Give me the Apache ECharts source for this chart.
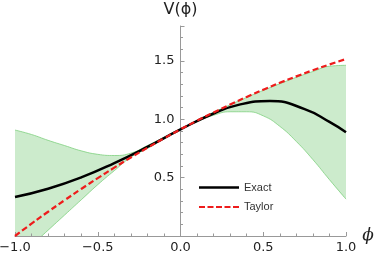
<!DOCTYPE html>
<html>
<head>
<meta charset="utf-8">
<script src="https://cdn.jsdelivr.net/npm/echarts@6/dist/echarts.min.js"></script>
<style>html,body{margin:0;padding:0;background:#fff}#c{width:374px;height:260px}</style>
</head>
<body>
<div id="c"></div>
<script>
const phi = [-1.0,-0.9,-0.8,-0.7,-0.6,-0.5,-0.4,-0.3,-0.2,-0.1,0.0,0.1,0.2,0.3,0.4,0.5,0.6,0.7,0.8,0.9,1.0];
const exactPhi = [-1.0,-0.8,-0.6,-0.4,-0.2,0.0,0.2,0.35,0.54,0.75,0.9,1.0];
const exact = [0.334,0.405,0.502,0.625,0.764,0.914,1.050,1.124,1.158,1.088,0.978,0.89];
const taylor = [0.0,0.106,0.208,0.307,0.403,0.496,0.586,0.673,0.756,0.837,0.914,0.988,1.059,1.127,1.192,1.254,1.313,1.368,1.421,1.470,1.517];
const bandUpper = [0.908,0.87,0.82,0.775,0.73,0.70,0.69,0.71,0.775,0.845,0.916,0.99,1.06,1.125,1.188,1.248,1.305,1.36,1.41,1.455,1.463];
const bandLower = [-0.21,-0.08,0.05,0.18,0.31,0.44,0.56,0.675,0.75,0.833,0.912,0.98,1.035,1.065,1.065,1.03,0.94,0.81,0.655,0.483,0.316];
const xTicks = [-1.0,-0.5,0.0,0.5,1.0];
const yTicks = [0.5,1.0,1.5];
const legendNames = ['Exact','Taylor'];

const pair = (xs, ys) => xs.map((x,i)=>[x, ys[i]]);
const fmt = v => (v < 0 ? '\u2212' : '') + Math.abs(v).toFixed(1);
const dashIcon = 'path://M0,0H6V2H0Z M8.5,0H14.5V2H8.5Z M17,0H23V2H17Z M25.5,0H31.5V2H25.5Z M34,0H40V2H34Z';

const gridLeft = 15, gridRight = 28, W = 374;
const chart = echarts.init(document.getElementById('c'));
chart.setOption({
  animation: false,
  backgroundColor: '#fff',
  textStyle: {fontFamily: 'DejaVu Sans'},
  grid: {left: gridLeft, right: gridRight, top: 26, bottom: 24, outerBoundsMode: 'none'},
  legend: {
    data: [{name: legendNames[0], icon: 'rect'}, {name: legendNames[1], icon: dashIcon}],
    orient: 'vertical',
    left: 194, top: 177,
    itemWidth: 40, itemHeight: 2.5, itemGap: 8.5,
    textStyle: {fontFamily: 'Liberation Sans', fontSize: 11, color: '#333'}
  },
  xAxis: {
    type: 'value', min: -1, max: 1, interval: 0.5, z: 3,
    name: '\u03d5', nameLocation: 'end', nameGap: 8,
    nameTextStyle: {fontFamily: 'DejaVu Serif', fontStyle: 'italic', fontSize: 17, color: '#222', verticalAlign: 'middle', padding: [14,0,0,0]},
    axisLine: {onZero: false, lineStyle: {color: '#999', width: 1}},
    axisTick: {inside: true, length: 4, lineStyle: {color: '#999'}},
    minorTick: {show: true, splitNumber: 5, length: 2.5, lineStyle: {color: '#999'}},
    splitLine: {show: false},
    axisLabel: {formatter: v => xTicks.includes(+v.toFixed(1)) ? fmt(v) : '', fontSize: 13, color: '#222', margin: 5}
  },
  yAxis: {
    type: 'value', min: 0, max: 1.8, interval: 0.5, z: 3,
    position: 'left', offset: -(W - gridLeft - gridRight) / 2,
    name: 'V(\u03d5)', nameLocation: 'end', nameGap: 8,
    nameTextStyle: {fontFamily: 'DejaVu Sans', fontSize: 16, color: '#222', align: 'center'},
    axisLine: {onZero: false, lineStyle: {color: '#999', width: 1}},
    axisTick: {inside: true, length: 4, lineStyle: {color: '#999'}},
    minorTick: {show: true, splitNumber: 5, length: 2.5, lineStyle: {color: '#999'}},
    splitLine: {show: false},
    axisLabel: {formatter: v => yTicks.includes(+v.toFixed(1)) ? v.toFixed(1) : '', fontSize: 13, color: '#222', margin: 6}
  },
  series: [
    {
      name: 'bandUp', type: 'line', data: pair(phi, bandUpper),
      smooth: 0.5, symbol: 'none', silent: true, z: 1,
      lineStyle: {color: '#7fd07f', width: 0.8},
      areaStyle: {color: '#ccebcc', opacity: 1, origin: 'start'}
    },
    {
      name: 'bandLow', type: 'line', data: pair(phi, bandLower),
      smooth: 0.5, symbol: 'none', silent: true, z: 2,
      lineStyle: {color: '#7fd07f', width: 0.8},
      areaStyle: {color: '#ffffff', opacity: 1, origin: 'start'}
    },
    {
      name: 'Exact', type: 'line', data: pair(exactPhi, exact), smooth: 0.5, symbol: 'none', z: 4,
      lineStyle: {color: '#000', width: 2.5}, itemStyle: {color: '#000'}
    },
    {
      name: 'Taylor', type: 'line', data: pair(phi, taylor), smooth: 0.5, symbol: 'none', z: 5,
      lineStyle: {color: '#ee1c1c', width: 2.2, type: [6,3]}, itemStyle: {color: '#ee1c1c'}
    }
  ]
});
</script>
</body>
</html>
